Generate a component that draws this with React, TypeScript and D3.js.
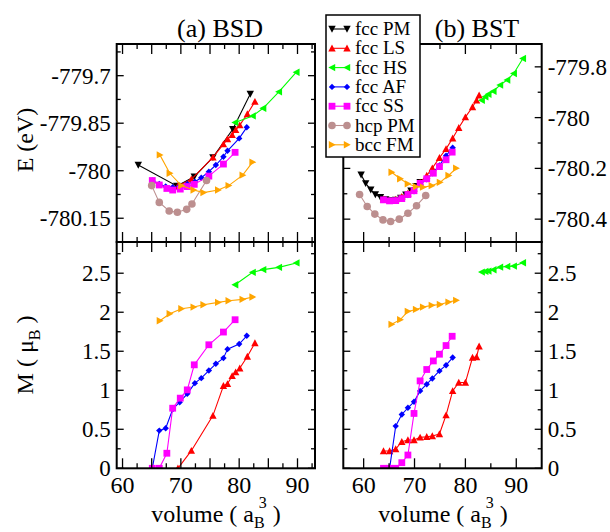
import * as d3 from 'd3';

const FONT = '"Liberation Serif", "Times New Roman", Times, serif';

// ---- panel (a) BSD ----
const pmA_vol = [62.7, 69.3, 72.3, 75.5, 78.9, 81.9];
const pmA_E = [-779.982, -780.048, -780.019, -779.958, -779.869, -779.758];

const lsA_vol = [69.5, 71.8, 75.5, 77.3, 78.0, 78.8, 79.4, 80.1, 81.4, 82.7];
const lsA_E = [-780.048, -780.027, -779.958, -779.916, -779.9, -779.887, -779.871, -779.856, -779.821, -779.782];
const lsA_M = [0, 0.226, 0.675, 1.057, 1.082, 1.185, 1.232, 1.283, 1.433, 1.605];

const hsA_vol = [79.3, 82.3, 84.1, 86.8, 89.8];
const hsA_E = [-779.848, -779.827, -779.803, -779.751, -779.689];
const hsA_M = [2.353, 2.511, 2.546, 2.575, 2.632];

const afA_vol = [65.1, 66.3, 67.4, 68.6, 69.8, 71.1, 72.4, 73.5, 74.8, 76.0, 77.3, 78.0, 80.0, 81.3];
const afA_E = [-780.031, -780.042, -780.05, -780.052, -780.048, -780.042, -780.035, -780.022, -780.003, -779.982, -779.956, -779.937, -779.898, -779.863];
const afA_M = [0, 0.483, 0.513, 0.757, 0.847, 0.954, 1.091, 1.155, 1.253, 1.339, 1.412, 1.527, 1.592, 1.698];

const ssA_vol = [65.1, 66.3, 67.6, 68.6, 69.9, 71.1, 72.3, 74.8, 77.3, 79.3];
const ssA_E = [-780.031, -780.045, -780.056, -780.061, -780.058, -780.05, -780.043, -780.017, -779.979, -779.942];
const ssA_M = [0, 0, 0.193, 0.77, 0.899, 1.005, 1.326, 1.583, 1.746, 1.904];

const hcpA_vol = [65.0, 66.3, 68.0, 69.4, 71.0, 71.9, 74.4];
const hcpA_E = [-780.047, -780.1, -780.127, -780.131, -780.122, -780.105, -780.031];

const bccA_vol = [66.4, 68.1, 70.1, 72.2, 73.9, 76.4, 78.2, 80.6, 82.3];
const bccA_E = [-779.95, -780.008, -780.047, -780.061, -780.069, -780.061, -780.047, -780.014, -779.973];
const bccA_M = [1.891, 1.981, 2.045, 2.066, 2.096, 2.126, 2.148, 2.165, 2.195];

// ---- panel (b) BST ----
const pmB_vol = [59.5, 60.4, 61.4, 62.3, 63.3, 64.3, 65.3, 66.3, 67.3, 68.3, 69.3, 70.3, 71.1];
const pmB_E = [-780.225, -780.259, -780.284, -780.303, -780.314, -780.322, -780.326, -780.324, -780.316, -780.304, -780.288, -780.27, -780.254];

const lsB_vol = [63.9, 65.1, 66.3, 67.5, 68.7, 69.9, 71.1, 72.4, 73.5, 74.9, 76.2, 77.5, 78.7, 80.0, 81.4, 82.2, 82.7];
const lsB_E = [-780.322, -780.325, -780.322, -780.312, -780.298, -780.278, -780.255, -780.228, -780.199, -780.158, -780.123, -780.081, -780.04, -779.998, -779.958, -779.932, -779.912];
const lsB_M = [0.221, 0.221, 0.247, 0.341, 0.362, 0.362, 0.396, 0.404, 0.413, 0.439, 0.682, 0.992, 1.099, 1.099, 1.419, 1.427, 1.564];

const hsB_vol = [83.2, 83.9, 84.5, 85.5, 86.8, 88.2, 89.5, 91.3];
const hsB_E = [-779.932, -779.918, -779.908, -779.896, -779.872, -779.852, -779.826, -779.767];
const hsB_M = [2.514, 2.523, 2.527, 2.545, 2.578, 2.587, 2.591, 2.634];

const afB_vol = [65.1, 66.3, 67.5, 68.7, 69.9, 71.1, 72.4, 73.5, 74.9, 76.2, 77.5];
const afB_E = [-780.326, -780.325, -780.318, -780.305, -780.29, -780.263, -780.243, -780.219, -780.188, -780.15, -780.119];
const afB_M = [0, 0.541, 0.69, 0.775, 0.852, 0.992, 1.078, 1.151, 1.248, 1.321, 1.419];

const ssB_vol = [63.9, 65.1, 66.3, 67.5, 68.7, 69.9, 71.1, 72.4, 73.7, 74.9, 76.2, 77.4];
const ssB_E = [-780.324, -780.328, -780.327, -780.319, -780.303, -780.288, -780.259, -780.241, -780.219, -780.193, -780.166, -780.136];
const ssB_M = [0, 0, 0, 0.072, 0.17, 0.703, 1.12, 1.266, 1.376, 1.462, 1.573, 1.692];

const hcpB_vol = [59.2, 60.7, 62.2, 63.8, 65.3, 67.0, 68.7, 70.4, 72.2];
const hcpB_E = [-780.303, -780.35, -780.38, -780.403, -780.409, -780.4, -780.377, -780.347, -780.307];

const bccB_vol = [65.5, 67.2, 68.7, 70.3, 71.7, 73.4, 75.0, 76.7, 78.2];
const bccB_E = [-780.215, -780.241, -780.261, -780.272, -780.274, -780.268, -780.255, -780.228, -780.199];
const bccB_M = [1.845, 1.905, 2.011, 2.036, 2.066, 2.088, 2.1, 2.13, 2.152];

// ---- ticks ----
const xTicksA = [60, 65, 70, 75, 80, 85, 90];
const xMinorA = [62.5, 67.5, 72.5, 77.5, 82.5, 87.5, 92.5];
const xLabelsA = [60, 70, 80, 90];
const xTicksB = [60, 70, 80, 90];
const xMinorB = [65, 75, 85];
const eTicksA = [-780.15, -780, -779.85, -779.7];
const eMinorA = [-780.075, -779.925, -779.775, -779.625];
const eTicksB = [-780.4, -780.2, -780, -779.8];
const eMinorB = [-780.3, -780.1, -779.9];
const mTicks = [0, 0.5, 1, 1.5, 2, 2.5];
const mMinor = [0.25, 0.75, 1.25, 1.75, 2.25, 2.75];

const legendNames = ['fcc PM', 'fcc LS', 'fcc HS', 'fcc AF', 'fcc SS', 'hcp PM', 'bcc FM'];
const colors = ['#000000', '#ff0000', '#00ff00', '#0000ff', '#ff00ff', '#bc8f8f', '#ffa500'];
const shapes = ['down', 'up', 'left', 'diamond', 'square', 'circle', 'right'];

type S = { idx: number; vol: number[]; v: number[] };

const topA: S[] = [
  { idx: 0, vol: pmA_vol, v: pmA_E },
  { idx: 1, vol: lsA_vol, v: lsA_E },
  { idx: 2, vol: hsA_vol, v: hsA_E },
  { idx: 3, vol: afA_vol, v: afA_E },
  { idx: 4, vol: ssA_vol, v: ssA_E },
  { idx: 5, vol: hcpA_vol, v: hcpA_E },
  { idx: 6, vol: bccA_vol, v: bccA_E },
];
const botA: S[] = [
  { idx: 1, vol: lsA_vol, v: lsA_M },
  { idx: 2, vol: hsA_vol, v: hsA_M },
  { idx: 3, vol: afA_vol, v: afA_M },
  { idx: 4, vol: ssA_vol, v: ssA_M },
  { idx: 6, vol: bccA_vol, v: bccA_M },
];
const topB: S[] = [
  { idx: 0, vol: pmB_vol, v: pmB_E },
  { idx: 1, vol: lsB_vol, v: lsB_E },
  { idx: 2, vol: hsB_vol, v: hsB_E },
  { idx: 3, vol: afB_vol, v: afB_E },
  { idx: 4, vol: ssB_vol, v: ssB_E },
  { idx: 5, vol: hcpB_vol, v: hcpB_E },
  { idx: 6, vol: bccB_vol, v: bccB_E },
];
const botB: S[] = [
  { idx: 1, vol: lsB_vol, v: lsB_M },
  { idx: 2, vol: hsB_vol, v: hsB_M },
  { idx: 3, vol: afB_vol, v: afB_M },
  { idx: 4, vol: ssB_vol, v: ssB_M },
  { idx: 6, vol: bccB_vol, v: bccB_M },
];

const Marker = ({ shape, x, y, c }: { shape: string; x: number; y: number; c: string }) => {
  const s = 3.7;
  if (shape === 'circle') return <circle cx={x} cy={y} r={3.8} fill={c} />;
  if (shape === 'square') return <rect x={x - 3.4} y={y - 3.4} width={6.8} height={6.8} fill={c} />;
  let pts: number[][] = [];
  if (shape === 'down') pts = [[x - s, y - s + 0.5], [x + s, y - s + 0.5], [x, y + s]];
  if (shape === 'up') pts = [[x - s, y + s - 0.5], [x + s, y + s - 0.5], [x, y - s]];
  if (shape === 'left') pts = [[x + s - 0.5, y - s], [x + s - 0.5, y + s], [x - s, y]];
  if (shape === 'right') pts = [[x - s + 0.5, y - s], [x - s + 0.5, y + s], [x + s, y]];
  if (shape === 'diamond') pts = [[x, y - 3.2], [x + 3.2, y], [x, y + 3.2], [x - 3.2, y]];
  return <polygon points={pts.map((p) => p.join(',')).join(' ')} fill={c} />;
};

type PanelProps = {
  x: d3.ScaleLinear<number, number>;
  y: d3.ScaleLinear<number, number>;
  series: S[];
  xMaj: number[];
  xMin: number[];
  yMaj: number[];
  yMin: number[];
  yLabels: string[];
  labelSide: 'left' | 'right';
  xLabels?: number[];
};

const Panel = ({ x, y, series, xMaj, xMin, yMaj, yMin, yLabels, labelSide, xLabels }: PanelProps) => {
  const [x0, x1] = x.range();
  const [y1, y0] = y.range();
  const line = d3.line<[number, number]>().x((d) => x(d[0])).y((d) => y(d[1]));
  const tk = { stroke: '#000', strokeWidth: 1.3 };
  return (
    <g>
      <defs>
        <clipPath id={`c${x0}${y0}`}>
          <rect x={x0} y={y0} width={x1 - x0} height={y1 - y0} />
        </clipPath>
      </defs>
      <g clipPath={`url(#c${x0}${y0})`}>
        {series.map((s, i) => {
          const pts = s.vol.map((v, j) => [v, s.v[j]] as [number, number]);
          return (
            <g key={i}>
              <path d={line(pts) || ''} fill="none" stroke={colors[s.idx]} strokeWidth={1.1} />
              {pts.map((p, j) => (
                <Marker key={j} shape={shapes[s.idx]} x={x(p[0])} y={y(p[1])} c={colors[s.idx]} />
              ))}
            </g>
          );
        })}
      </g>
      {xMaj.map((v) => (
        <g key={'xm' + v}>
          <line x1={x(v)} x2={x(v)} y1={y1} y2={y1 - 10} {...tk} />
          <line x1={x(v)} x2={x(v)} y1={y0} y2={y0 + 10} {...tk} />
        </g>
      ))}
      {xMin.map((v) => (
        <g key={'xn' + v}>
          <line x1={x(v)} x2={x(v)} y1={y1} y2={y1 - 5} {...tk} />
          <line x1={x(v)} x2={x(v)} y1={y0} y2={y0 + 5} {...tk} />
        </g>
      ))}
      {yMaj.map((v) => (
        <g key={'ym' + v}>
          <line x1={x0} x2={x0 + 7} y1={y(v)} y2={y(v)} {...tk} />
          <line x1={x1} x2={x1 - 7} y1={y(v)} y2={y(v)} {...tk} />
        </g>
      ))}
      {yMin.map((v) => (
        <g key={'yn' + v}>
          <line x1={x0} x2={x0 + 4} y1={y(v)} y2={y(v)} {...tk} />
          <line x1={x1} x2={x1 - 4} y1={y(v)} y2={y(v)} {...tk} />
        </g>
      ))}
      {yMaj.map((v, i) => (
        <text
          key={'yl' + v}
          x={labelSide === 'left' ? x0 - 6 : x1 + 6}
          y={y(v) + 8}
          textAnchor={labelSide === 'left' ? 'end' : 'start'}
          fontSize={23}
        >
          {yLabels[i]}
        </text>
      ))}
      {(xLabels || []).map((v) => (
        <text key={'xl' + v} x={x(v)} y={y1 + 25} textAnchor="middle" fontSize={24}>
          {v}
        </text>
      ))}
      <rect x={x0} y={y0} width={x1 - x0} height={y1 - y0} fill="none" stroke="#000" strokeWidth={2} />
    </g>
  );
};

export default function App() {
  const xA = d3.scaleLinear().domain([59, 93]).range([116.7, 315]);
  const xB = d3.scaleLinear().domain([56, 95]).range([343.3, 541.7]);
  const eA = d3.scaleLinear().domain([-780.225, -779.6]).range([242, 44]);
  const eB = d3.scaleLinear().domain([-780.49, -779.71]).range([242, 44]);
  const mY = d3.scaleLinear().domain([0, 2.9]).range([468.3, 242]);

  const eLabA = ['-780.15', '-780', '-779.85', '-779.7'];
  const eLabB = ['-780.4', '-780.2', '-780', '-779.8'];
  const mLab = mTicks.map((v) => String(v));

  return (
    <div style={{ position: 'absolute', left: 0, top: 0 }}>
      <svg width={610} height={532} style={{ display: 'block', background: '#fff', fontFamily: FONT }}>
        <Panel x={xA} y={eA} series={topA} xMaj={xTicksA} xMin={xMinorA} yMaj={eTicksA} yMin={eMinorA} yLabels={eLabA} labelSide="left" />
        <Panel x={xA} y={mY} series={botA} xMaj={xTicksA} xMin={xMinorA} yMaj={mTicks} yMin={mMinor} yLabels={mLab} labelSide="left" xLabels={xLabelsA} />
        <Panel x={xB} y={eB} series={topB} xMaj={xTicksB} xMin={xMinorB} yMaj={eTicksB} yMin={eMinorB} yLabels={eLabB} labelSide="right" />
        <Panel x={xB} y={mY} series={botB} xMaj={xTicksB} xMin={xMinorB} yMaj={mTicks} yMin={mMinor} yLabels={mLab} labelSide="right" xLabels={xTicksB} />

        <text x={220} y={37} textAnchor="middle" fontSize={26}>(a) BSD</text>
        <text x={477} y={37} textAnchor="middle" fontSize={26}>(b) BST</text>

        <text transform="translate(33,140) rotate(-90)" textAnchor="middle" fontSize={24}>E (eV)</text>
        <text transform="translate(33,355) rotate(-90)" textAnchor="middle" fontSize={24}>
          M ( μ<tspan dy={7} fontSize={16}>B</tspan>
          <tspan dy={-7}> )</tspan>
        </text>

        {[216, 443].map((cx) => (
          <text key={cx} x={cx} y={522} textAnchor="middle" fontSize={24}>
            volume ( a<tspan dy={6} fontSize={16}>B</tspan>
            <tspan dx={-6} dy={-20} fontSize={16}>3</tspan>
            <tspan dy={14}> )</tspan>
          </text>
        ))}

        <g>
          <rect x={326} y={15} width={94} height={142} fill="#fff" stroke="#000" strokeWidth={1.5} />
          {legendNames.map((n, i) => {
            const yy = 29 + i * 19.3;
            return (
              <g key={n}>
                <line x1={332} x2={347} y1={yy} y2={yy} stroke={colors[i]} strokeWidth={1.1} />
                <Marker shape={shapes[i]} x={332} y={yy} c={colors[i]} />
                <Marker shape={shapes[i]} x={347} y={yy} c={colors[i]} />
                <text x={355} y={yy + 6} fontSize={19}>{n}</text>
              </g>
            );
          })}
        </g>
      </svg>
    </div>
  );
}
